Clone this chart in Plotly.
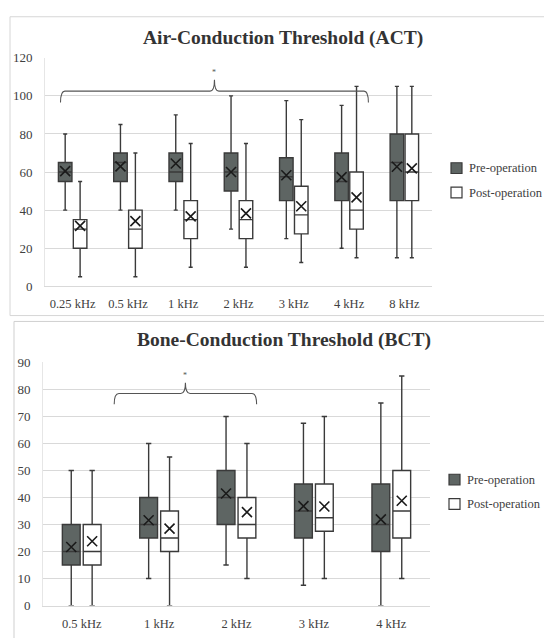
import plotly.graph_objects as go

W, H = 544, 638

# ---------------- data: Air-Conduction Threshold ----------------
act_cats = ["0.25 kHz", "0.5 kHz", "1 kHz", "2 kHz", "3 kHz", "4 kHz", "8 kHz"]
act_pre_low = [40, 40, 40, 30, 25, 20, 15]
act_pre_q1 = [55, 55, 55, 50, 45, 45, 45]
act_pre_med = [60, 65, 60, 60, 57.5, 55, 65]
act_pre_q3 = [65, 70, 70, 70, 67.5, 70, 80]
act_pre_high = [80, 85, 90, 100, 97.5, 95, 105]
act_pre_mean = [60.5, 63, 64.5, 60, 58.3, 57.3, 62.8]

act_post_low = [5, 5, 10, 10, 12.5, 15, 15]
act_post_q1 = [20, 20, 25, 25, 27.5, 30, 45]
act_post_med = [30, 30, 35, 35, 37.5, 40, 60]
act_post_q3 = [35, 40, 45, 45, 52.5, 60, 80]
act_post_high = [55, 70, 75, 75, 87.5, 105, 105]
act_post_mean = [31.7, 34.2, 36.7, 38.3, 42.0, 46.7, 61.9]

# ---------------- data: Bone-Conduction Threshold ----------------
bct_cats = ["0.5 kHz", "1 kHz", "2 kHz", "3 kHz", "4 kHz"]
bct_pre_low = [0, 10, 15, 7.5, 0]
bct_pre_q1 = [15, 25, 30, 25, 20]
bct_pre_med = [20, 30, 40, 35, 30]
bct_pre_q3 = [30, 40, 50, 45, 45]
bct_pre_high = [50, 60, 70, 67.5, 75]
bct_pre_mean = [21.7, 31.6, 41.5, 36.8, 31.9]

bct_post_low = [0, 0, 10, 10, 10]
bct_post_q1 = [15, 20, 25, 27.5, 25]
bct_post_med = [20, 25, 30, 32.5, 35]
bct_post_q3 = [30, 35, 40, 45, 50]
bct_post_high = [50, 55, 60, 70, 85]
bct_post_mean = [23.8, 28.5, 34.6, 36.7, 38.8]

series_names = ["Pre-operation", "Post-operation"]

# ---------------- style ----------------
SERIF = "Liberation Serif, Times New Roman, serif"
PRE_FILL = "#5e6563"
POST_FILL = "#ffffff"
EDGE = "#3a3a3a"
GRID = "#d9d9d9"
TXT = "#404040"
FILLS = [PRE_FILL, POST_FILL]


def px_x(p):
    return p / W


def px_y(p):
    return 1 - p / H


fig = go.Figure()


def add_panel(cats, pre, post, pre_mean, post_mean, xa, ya, off, bw):
    n = len(cats)
    for name, stats, means, fill, sign in [
        (series_names[0], pre, pre_mean, PRE_FILL, -1),
        (series_names[1], post, post_mean, POST_FILL, 1),
    ]:
        xs = [i + sign * off for i in range(n)]
        low, q1, med, q3, high = stats
        fig.add_trace(go.Box(
            name=name, x=xs, q1=q1, median=med, q3=q3,
            lowerfence=low, upperfence=high, width=bw,
            fillcolor=fill, line=dict(color=EDGE, width=1.4),
            whiskerwidth=0.3, boxpoints=False,
            xaxis=xa, yaxis=ya, showlegend=False, hoverinfo="skip",
        ))
        fig.add_trace(go.Scatter(
            x=xs, y=means, mode="markers",
            marker=dict(symbol="x-thin", size=10,
                        line=dict(color="#1a1a1a", width=1.6)),
            xaxis=xa, yaxis=ya, showlegend=False, hoverinfo="skip",
        ))


add_panel(act_cats,
          [act_pre_low, act_pre_q1, act_pre_med, act_pre_q3, act_pre_high],
          [act_post_low, act_post_q1, act_post_med, act_post_q3, act_post_high],
          act_pre_mean, act_post_mean, "x", "y", 0.135, 0.245)
add_panel(bct_cats,
          [bct_pre_low, bct_pre_q1, bct_pre_med, bct_pre_q3, bct_pre_high],
          [bct_post_low, bct_post_q1, bct_post_med, bct_post_q3, bct_post_high],
          bct_pre_mean, bct_post_mean, "x2", "y2", 0.135, 0.23)


# ---------------- braces ----------------
def brace(x0, x1, ybase, yline, ypeak, xref, yref, dx):
    xc = (x0 + x1) / 2
    path = (f"M {x0},{ybase} Q {x0},{yline} {x0 + dx},{yline} "
            f"L {xc - dx},{yline} Q {xc},{yline} {xc},{ypeak} "
            f"Q {xc},{yline} {xc + dx},{yline} "
            f"L {x1 - dx},{yline} Q {x1},{yline} {x1},{ybase}")
    fig.add_shape(type="path", path=path, xref=xref, yref=yref,
                  line=dict(color="#555555", width=1.1))
    fig.add_annotation(x=xc, y=ypeak, xref=xref, yref=yref, text="*",
                       showarrow=False, yanchor="bottom", yshift=1,
                       font=dict(family=SERIF, size=8, color="#555555"))


brace(-0.22, 5.35, 96.5, 102.5, 108.5, "x", "y", 0.08)
brace(0.42, 2.26, 74.5, 78.5, 82.5, "x2", "y2", 0.06)

# ---------------- panel frames ----------------
fig.add_shape(type="rect", xref="paper", yref="paper",
              x0=px_x(10), x1=1.02, y0=px_y(316), y1=px_y(10),
              line=dict(color="#d6d6d6", width=1))
fig.add_shape(type="rect", xref="paper", yref="paper",
              x0=px_x(14), x1=1.02, y0=-0.02, y1=px_y(322),
              line=dict(color="#cfcfcf", width=1))

# ---------------- titles ----------------
fig.add_annotation(text="<b>Air-Conduction Threshold (ACT)</b>", xref="paper", yref="paper",
                   x=px_x(283), y=px_y(32), showarrow=False, xanchor="center", yanchor="middle",
                   font=dict(family=SERIF, size=19.5, color="#333333"))
fig.add_annotation(text="<b>Bone-Conduction Threshold (BCT)</b>", xref="paper", yref="paper",
                   x=px_x(284), y=px_y(341), showarrow=False, xanchor="center", yanchor="middle",
                   font=dict(family=SERIF, size=19.5, color="#333333"))


# ---------------- legends (drawn per panel) ----------------
def legend(x_sq, y_first, gap):
    for k, name in enumerate(series_names):
        yc = y_first + k * gap
        fig.add_shape(type="rect", xref="paper", yref="paper",
                      x0=px_x(x_sq), x1=px_x(x_sq + 11),
                      y0=px_y(yc + 5.5), y1=px_y(yc - 5.5),
                      fillcolor=FILLS[k], line=dict(color=EDGE, width=1.2))
        fig.add_annotation(text=name, xref="paper", yref="paper",
                           x=px_x(x_sq + 16), y=px_y(yc), showarrow=False,
                           xanchor="left", yanchor="middle",
                           font=dict(family=SERIF, size=12.5, color=TXT))


legend(451, 165, 25)
legend(449, 484, 25)

xfont = dict(family=SERIF, size=12.5, color=TXT)
yfont = dict(family=SERIF, size=13, color=TXT)

fig.update_layout(
    width=W, height=H,
    margin=dict(l=0, r=0, t=0, b=0),
    paper_bgcolor="white", plot_bgcolor="white",
    boxmode="overlay",
    showlegend=False,
    xaxis=dict(domain=[px_x(45), px_x(432)], range=[-0.5, len(act_cats) - 0.5],
               tickmode="array", tickvals=list(range(len(act_cats))), ticktext=act_cats,
               showgrid=False, zeroline=False, showline=True, linecolor=GRID,
               ticks="", tickfont=xfont, ticklabelstandoff=6),
    yaxis=dict(domain=[px_y(286), px_y(52)], range=[0, 120], dtick=20,
               showgrid=True, gridcolor=GRID, zeroline=False,
               showline=True, linecolor="#e6e6e6",
               ticks="", tickfont=yfont, ticklabelstandoff=9),
    xaxis2=dict(domain=[px_x(43), px_x(430)], range=[-0.5, len(bct_cats) - 0.5],
                tickmode="array", tickvals=list(range(len(bct_cats))), ticktext=bct_cats,
                showgrid=False, zeroline=False, showline=True, linecolor=GRID,
                ticks="", tickfont=xfont, ticklabelstandoff=6, anchor="y2"),
    yaxis2=dict(domain=[px_y(613), px_y(364)], range=[0, 90], dtick=10,
                showgrid=True, gridcolor=GRID, zeroline=False,
                showline=True, linecolor="#e6e6e6",
                ticks="", tickfont=yfont, ticklabelstandoff=9, anchor="x2"),
)

fig.write_html("out.html",
               config={"displayModeBar": False, "staticPlot": True},
               post_script="document.documentElement.style.margin='0';"
                           "document.body.style.margin='0';"
                           "document.body.style.overflow='hidden';")
